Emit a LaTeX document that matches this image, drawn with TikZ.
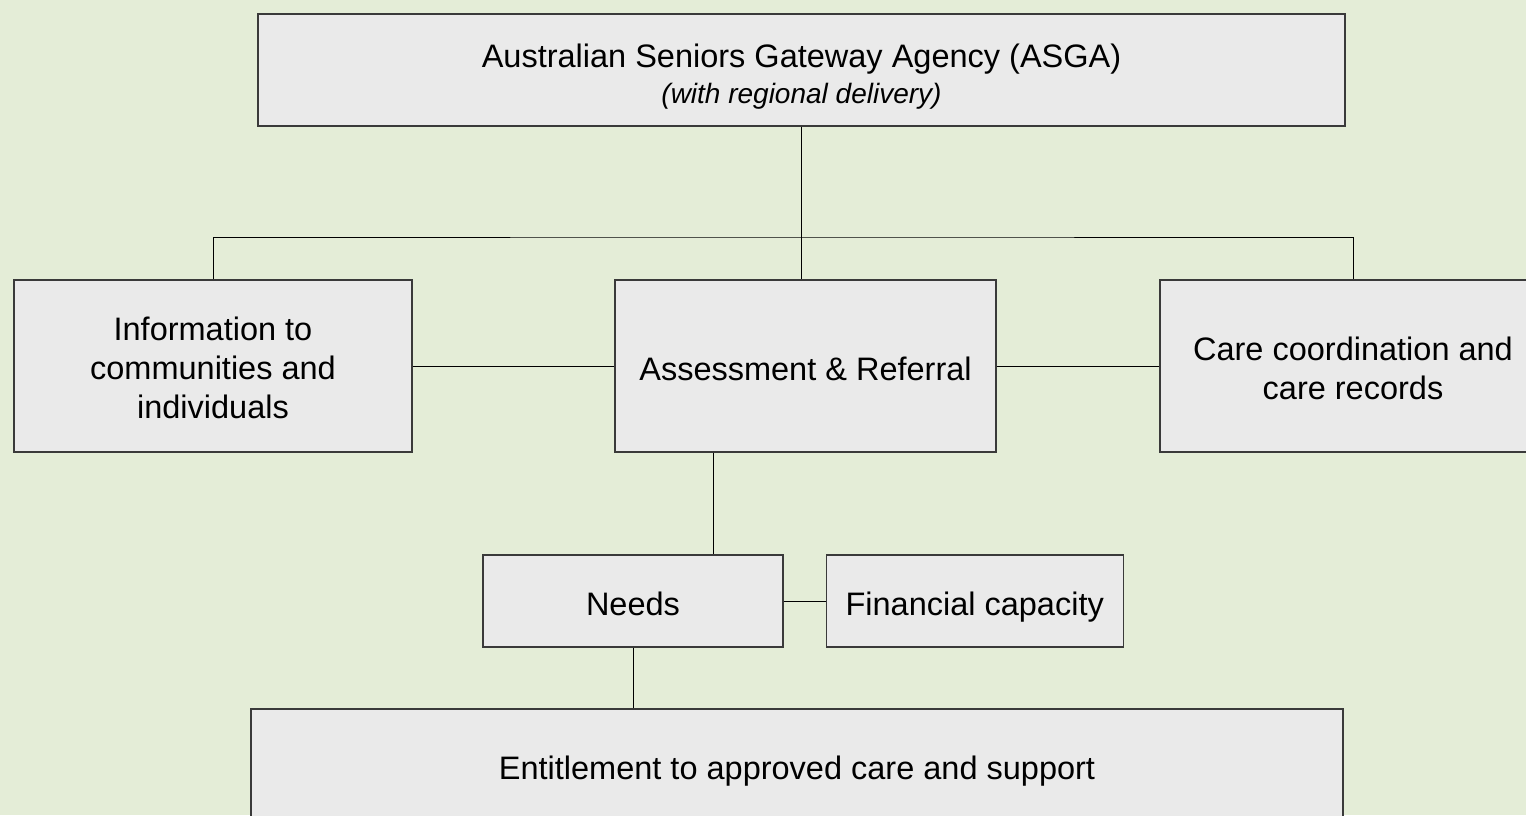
\documentclass[tikz,border=0pt]{standalone}
\usepackage{fontspec}
\setmainfont{Liberation Sans}
\usepackage{xcolor}
\usetikzlibrary{positioning}
\definecolor{pagegreen}{HTML}{E4EDD7}
\definecolor{boxgrey}{HTML}{EAEAEA}
\definecolor{edgegrey}{HTML}{3A3A3A}
\tikzstyle{orgbox}=[rectangle,draw=edgegrey,line width=1.2pt,fill=boxgrey,inner sep=0pt,align=center,text depth=0pt,font=\fontsize{32.5}{39}\selectfont,execute at begin node={\rule{0pt}{29pt}}]
\tikzstyle{link}=[draw=black,line width=1pt]

\begin{document}
\begin{tikzpicture}[x=1pt,y=-1pt]
    \clip (0,0) rectangle (1526,815);
    \fill[pagegreen] (0,0) rectangle (1526,815);

\node (asga) [orgbox, minimum width=1087pt, minimum height=112pt] at (801.5,70) {\rule{0pt}{31pt}Australian Seniors Gateway Agency (ASGA)\\[-3pt]{\fontsize{28}{33}\selectfont\itshape (with regional delivery)}};
\node (info) [orgbox, minimum width=398pt, minimum height=172pt] at (213,366) {\rule{0pt}{27.5pt}Information to\\communities and\\individuals};
\node (assess) [orgbox, minimum width=381pt, minimum height=172pt] at (805.5,366) {Assessment \& Referral};
\node (care) [orgbox, minimum width=386pt, minimum height=172pt] at (1353,366) {\rule{0pt}{27.5pt}Care coordination and\\care records};
\node (needs) [orgbox, minimum width=300pt, minimum height=92pt] at (633,601) {Needs};
\node (fin) [orgbox, minimum width=297pt, minimum height=92pt, right=42pt of needs] {Financial capacity};
\node (ent) [orgbox, minimum width=1092pt, minimum height=112pt] at (797,765) {Entitlement to approved care and support};

\coordinate (bus) at (801,237);
\coordinate (drop) at (713,452);

\draw[link] (asga.south) -- (asga.south |- assess.north);
\draw[link] (info.north) |- (bus) -| (care.north);
\draw[link] (info.east) -- (assess.west);
\draw[link] (assess.east) -- (care.west);
\draw[link] (drop |- assess.south) -- (drop |- needs.north);
\draw[link] (needs.east) -- (fin.west);
\draw[link] (needs.south) -- (needs.south |- ent.north);
\end{tikzpicture}
\end{document}
